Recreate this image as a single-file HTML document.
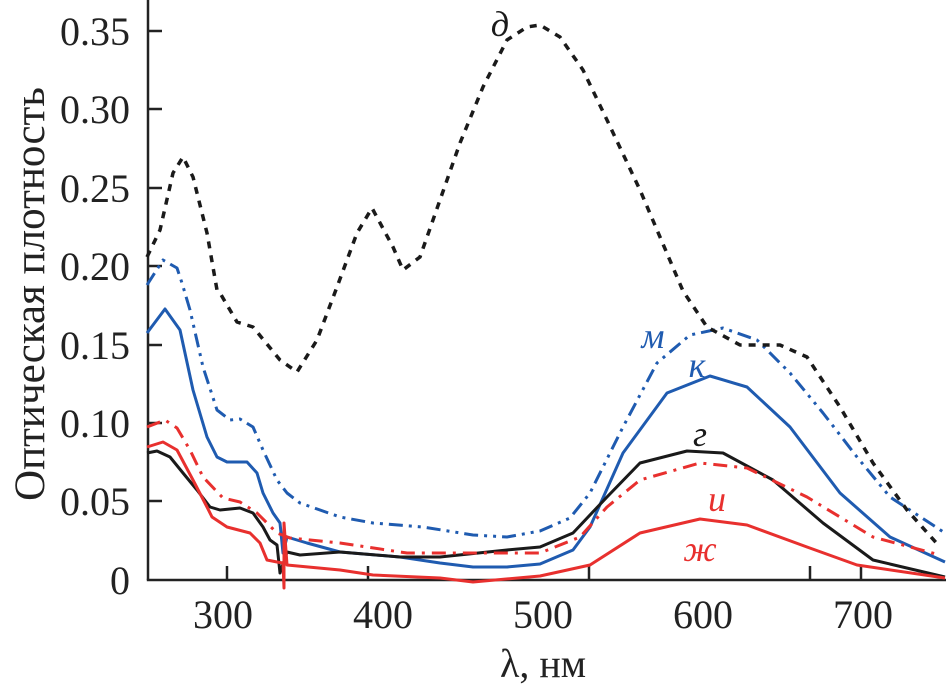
<!DOCTYPE html>
<html><head><meta charset="utf-8"><style>
html,body{margin:0;padding:0;background:#fff;}
svg{display:block;}
text{font-family:"Liberation Serif",serif;}
</style></head><body>
<svg width="946" height="687" viewBox="0 0 946 687" xmlns="http://www.w3.org/2000/svg">
<g stroke="#222" stroke-width="2.5" fill="none">
<line x1="148" y1="0" x2="148" y2="580"/>
<line x1="146.8" y1="580" x2="946" y2="580"/>
<line x1="148" y1="31" x2="162" y2="31"/>
<line x1="148" y1="109" x2="162" y2="109"/>
<line x1="148" y1="188" x2="162" y2="188"/>
<line x1="148" y1="266" x2="162" y2="266"/>
<line x1="148" y1="345" x2="162" y2="345"/>
<line x1="148" y1="423" x2="162" y2="423"/>
<line x1="148" y1="501" x2="162" y2="501"/>
<line x1="227" y1="580" x2="227" y2="566"/>
<line x1="368" y1="580" x2="368" y2="566"/>
<line x1="589" y1="580" x2="589" y2="566"/>
<line x1="810" y1="580" x2="810" y2="566"/>
<line x1="861" y1="580" x2="861" y2="566"/>
</g>
<g font-size="40" fill="#222" text-anchor="end">
<text x="130" y="45">0.35</text>
<text x="130" y="123">0.30</text>
<text x="130" y="202">0.25</text>
<text x="130" y="280">0.20</text>
<text x="130" y="359">0.15</text>
<text x="130" y="437">0.10</text>
<text x="130" y="515">0.05</text>
<text x="130" y="594">0</text>
</g>
<g font-size="40" fill="#222" text-anchor="middle">
<text x="223" y="628">300</text>
<text x="383" y="628">400</text>
<text x="543" y="628">500</text>
<text x="703" y="628">600</text>
<text x="863" y="628">700</text>
<text x="543" y="677">λ, нм</text>
</g>
<text transform="translate(44,294) rotate(-90)" font-size="43" fill="#222" text-anchor="middle">Оптическая плотность</text>

<g fill="none" stroke-width="3" stroke-linejoin="round">
<polyline stroke="#1f5bb0" stroke-dasharray="14,6,3,6,3,6" points="147,285 163,260 177,268 182,283 190,310 203,367 217,410 230,420 240,419 253,427 263,450 277,480 287,493 300,503 340,517 373,523 423,527 473,535 507,537 540,531 570,518 590,493 623,427 657,363 690,335 723,328 757,340 790,373 823,413 857,457 890,497 945,533"/>
<polyline stroke="#1f5bb0" points="147,333 165,309 180,330 193,390 207,437 217,457 227,462 247,462 257,473 263,493 273,513 280,523 283,553 287,537 307,543 340,552 400,557 440,563 473,567 507,567 540,564 573,550 590,527 623,453 667,393 710,376 747,387 790,427 840,493 890,537 945,562"/>
<polyline stroke="#1a1a1a" points="147,453 157,451 170,457 183,473 197,490 210,507 220,510 240,508 253,513 263,527 270,540 277,545 280,573 287,552 300,555 340,552 400,557 440,557 507,550 540,547 573,533 607,497 640,463 687,451 723,453 773,480 823,523 873,560 945,577"/>
<polyline stroke="#e8302e" stroke-dasharray="14,7,3,7" points="147,427 165,420 177,428 190,450 203,477 223,498 240,502 257,513 267,523 277,533 290,538 340,543 407,553 473,553 540,553 580,537 607,507 640,480 700,463 747,468 807,497 873,537 940,555"/>
<polyline stroke="#e8302e" points="147,447 163,442 177,450 193,480 207,507 212,517 227,527 250,533 260,543 267,560 277,562 283,563 284,588 284,523 287,565 340,570 373,575 440,578 473,582 540,576 590,565 640,533 700,519 747,525 807,547 857,565 945,578"/>
<polyline stroke="#1a1a1a" stroke-width="3.5" stroke-dasharray="7,7" points="147,257 160,230 173,173 183,157 193,177 207,233 217,290 220,293 237,322 253,327 280,360 297,372 317,340 337,287 357,233 372,208 393,247 403,270 420,257 440,200 460,143 483,87 507,40 527,27 540,25 560,37 583,70 607,120 640,190 683,291 707,327 740,345 780,345 807,357 840,407 873,463 907,510 940,547"/>
</g>
<g font-size="36" font-style="italic">
<text x="500" y="36" fill="#1a1a1a" text-anchor="middle">д</text>
<text x="653" y="348" fill="#1f5bb0" text-anchor="middle">м</text>
<text x="697" y="377" fill="#1f5bb0" text-anchor="middle">к</text>
<text x="700" y="446" fill="#1a1a1a" text-anchor="middle">г</text>
<text x="717" y="511" fill="#e8302e" text-anchor="middle">и</text>
<text x="700" y="561" fill="#e8302e" text-anchor="middle">ж</text>
</g>
</svg>
</body></html>
